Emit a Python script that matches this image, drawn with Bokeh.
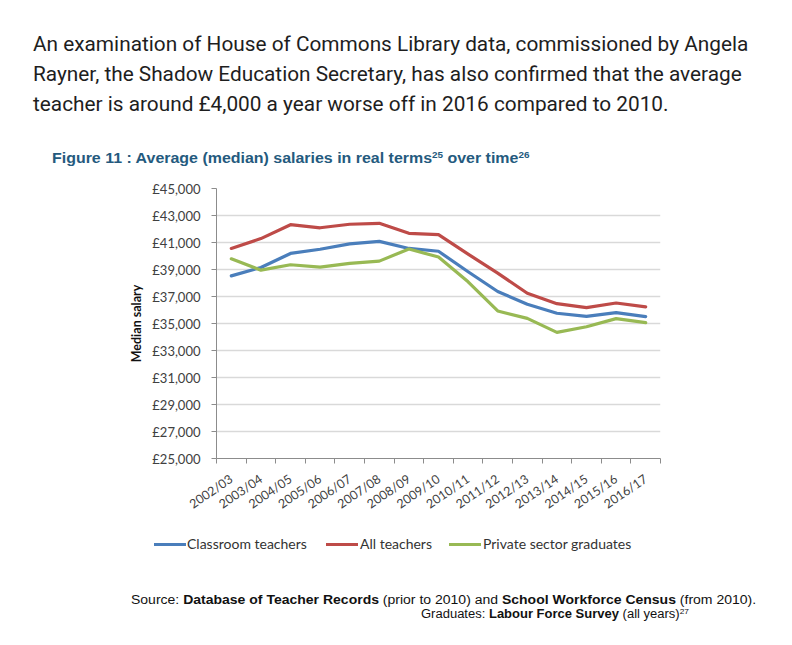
from bokeh.plotting import figure
from bokeh.layouts import column
from bokeh.models import Range1d, FixedTicker, Div
from bokeh.embed import file_html
from bokeh.resources import INLINE

# ---------------- data ----------------
years = ["2002/03", "2003/04", "2004/05", "2005/06", "2006/07", "2007/08", "2008/09",
         "2009/10", "2010/11", "2011/12", "2012/13", "2013/14", "2014/15", "2015/16", "2016/17"]
classroom_teachers = [38530, 39150, 40190, 40500, 40900, 41080, 40560, 40350,
                      38830, 37370, 36420, 35760, 35530, 35810, 35510]
all_teachers = [40560, 41290, 42320, 42090, 42350, 42420, 41680, 41580,
                40140, 38730, 37240, 36470, 36180, 36520, 36230]
private_graduates = [39790, 38950, 39350, 39180, 39450, 39620, 40520, 39920,
                     38090, 35930, 35380, 34340, 34760, 35360, 35060]
y_ticks = [25000, 27000, 29000, 31000, 33000, 35000, 37000, 39000, 41000, 43000, 45000]
y_tick_labels = ["£25,000", "£27,000", "£29,000", "£31,000", "£33,000", "£35,000",
                 "£37,000", "£39,000", "£41,000", "£43,000", "£45,000"]
series_names = ["Classroom teachers", "All teachers", "Private sector graduates"]
series_colors = ["#4a7ebb", "#be4b48", "#98b954"]

intro_lines = ["An examination of House of Commons Library data, commissioned by Angela",
               "Rayner, the Shadow Education Secretary, has also confirmed that the average",
               "teacher is around £4,000 a year worse off in 2016 compared to 2010."]

# ---------------- layout (page px) ----------------
W = 790
TOP_H = 172
CHART_BOTTOM = 520
BOT_H = 124
FL, FR, FT, FB = 216, 660, 188, 458

TC = "#245a7e"
para = "".join(
    f'<div style="position:absolute;left:33px;top:{29 + 30 * i}px;height:30px;line-height:30px;'
    f'white-space:nowrap;font-family:Roboto;font-size:20.8px;color:#1e1e1e;">{line}</div>'
    for i, line in enumerate(intro_lines))
title = (f'<div style="position:absolute;left:52px;top:150px;height:16px;line-height:16px;'
         f'white-space:nowrap;font-family:\'Liberation Sans\';font-weight:bold;font-size:14.5px;'
         f'color:{TC};transform:scaleX(1.1);transform-origin:left center;">'
         f'Figure 11 : Average (median) salaries in real terms'
         f'<span style="font-size:9px;position:relative;top:-5px;">25</span> over time'
         f'<span style="font-size:9px;position:relative;top:-5px;">26</span></div>')
top_div = Div(text=f'<div style="position:relative;width:{W}px;height:{TOP_H}px;">{para}{title}</div>',
              width=W, height=TOP_H, margin=0)

# legend (HTML, below the chart) and source notes
LEG_Y = 544 - CHART_BOTTOM
legend_specs = [(154, 187), (326, 360), (449, 483)]
legend_html = ""
for (sw_x, tx_x), name, col in zip(legend_specs, series_names, series_colors):
    legend_html += (f'<div style="position:absolute;left:{sw_x}px;top:{LEG_Y - 1.5}px;width:32px;'
                    f'height:3px;background:{col};"></div>'
                    f'<div style="position:absolute;left:{tx_x}px;top:{LEG_Y - 9}px;height:18px;'
                    f'line-height:18px;white-space:nowrap;font-family:Lato;font-size:14px;'
                    f'color:#333;">{name}</div>')

SRC_STYLE = ("position:absolute;height:13px;line-height:13px;white-space:nowrap;"
             "font-family:'Liberation Sans';font-size:12.5px;color:#111;transform-origin:left center;")
src1 = (f'<div style="{SRC_STYLE}left:131px;top:{600 - 6.5 - CHART_BOTTOM}px;transform:scaleX(1.12);">'
        f'Source: <b>Database of Teacher Records</b> (prior to 2010) and '
        f'<b>School Workforce Census</b> (from 2010).</div>')
src2 = (f'<div style="{SRC_STYLE}left:421px;top:{614 - 6.5 - CHART_BOTTOM}px;transform:scaleX(1.04);">'
        f'Graduates: <b>Labour Force Survey</b> (all years)'
        f'<span style="font-size:8px;position:relative;top:-4px;">27</span></div>')
bot_div = Div(text=f'<div style="position:relative;width:{W}px;height:{BOT_H}px;">'
                   f'{legend_html}{src1}{src2}</div>',
              width=W, height=BOT_H, margin=0)

# ---------------- chart ----------------
CH = CHART_BOTTOM - TOP_H
p = figure(width=W, height=CH, output_backend="svg", toolbar_location=None,
           x_range=Range1d(-0.5, len(years) - 0.5), y_range=Range1d(25000, 45000),
           min_border_left=FL, min_border_right=W - FR,
           min_border_top=FT - TOP_H, min_border_bottom=CHART_BOTTOM - FB, margin=0)
p.outline_line_color = None
p.background_fill_color = "white"
p.border_fill_color = "white"
p.xgrid.visible = False
p.ygrid.grid_line_color = "#d9d9d9"
p.ygrid.grid_line_width = 1.6

xs = list(range(len(years)))
for name, vals, col in zip(series_names, [classroom_teachers, all_teachers, private_graduates],
                           series_colors):
    p.line(xs, vals, line_color=col, line_width=3.2, line_join="round", line_cap="round",
           name=name)

AX = "#8c8c8c"
TXT = "#404040"
yax = p.yaxis[0]
yax.ticker = FixedTicker(ticks=y_ticks)
yax.major_label_overrides = {t: l for t, l in zip(y_ticks, y_tick_labels)}
yax.axis_line_color = AX
yax.major_tick_line_color = AX
yax.major_tick_out = 5
yax.major_tick_in = 0
yax.minor_tick_out = 0
yax.minor_tick_in = 0
yax.major_label_standoff = 11
yax.major_label_text_font = "Lato"
yax.major_label_text_font_size = "13px"
yax.major_label_text_color = TXT
yax.axis_label = "Median salary"
yax.axis_label_text_font = "Lato"
yax.axis_label_text_font_style = "bold"
yax.axis_label_text_font_size = "12.5px"
yax.axis_label_text_color = "#111111"
yax.axis_label_standoff = 5

xax = p.xaxis[0]
xax.ticker = FixedTicker(ticks=xs, minor_ticks=[i - 0.5 for i in range(len(years) + 1)])
xax.major_label_overrides = {i: y for i, y in enumerate(years)}
xax.axis_line_color = AX
xax.major_tick_out = 0
xax.major_tick_in = 0
xax.minor_tick_line_color = AX
xax.minor_tick_out = 5
xax.minor_tick_in = 0
xax.major_label_orientation = 0.6
xax.major_label_standoff = 14
xax.major_label_text_font = "Lato"
xax.major_label_text_font_size = "12.5px"
xax.major_label_text_color = TXT

open("out.html", "w").write(file_html(column(top_div, p, bot_div, spacing=0), INLINE))
